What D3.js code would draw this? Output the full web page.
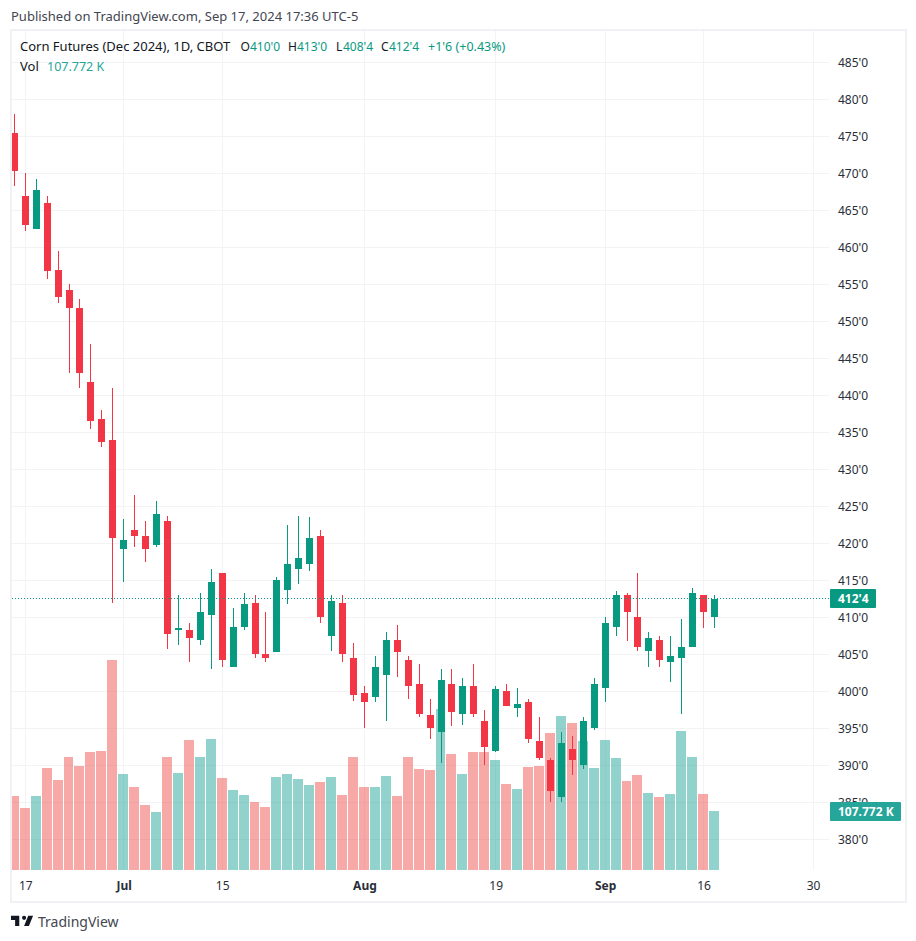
<!DOCTYPE html>
<html>
<head>
<meta charset="utf-8">
<script src="https://cdn.jsdelivr.net/npm/d3@7"></script>
<style>
body { margin: 0; background: #fff; }
text { font-family: "Noto Sans", sans-serif; }
</style>
</head>
<body>
<svg id="chart" width="916" height="941"></svg>
<script>
// corn dec 2024 daily, prices in cents, volume in thousands
var opens = [475.5, 467, 462.5, 466, 457, 454.25, 451.75, 441.75, 436.75, 434, 419.25, 421.75, 421, 419.75, 423, 408.25, 408.25, 407, 410.25, 416, 403.25, 408.75, 412, 405, 405.25, 413.75, 416.5, 417.25, 421, 407.5, 412, 404.5, 399.75, 399.25, 402.25, 407, 404.25, 401, 396.75, 394.5, 401, 397, 400.75, 396, 392, 400, 397.75, 398.5, 393.25, 390.75, 385.75, 392.25, 390, 395, 400.5, 408.75, 413, 410, 405.5, 407, 404, 404.5, 406, 413, 410];
var highs = [478, 470, 469.25, 467, 459.5, 455, 453, 447, 438, 441, 423.25, 426.5, 423, 425.75, 423.75, 413, 409.25, 413.25, 416.5, 416, 411.25, 413.25, 413, 410.75, 415.5, 422.5, 423.75, 423.5, 421.75, 413, 413, 406.5, 400.75, 404.75, 408, 409, 404.75, 403.75, 399, 403, 403, 401.75, 403.75, 397.5, 400.75, 401, 400.5, 399, 396.5, 391, 394.5, 394, 396.5, 401.75, 410, 413.5, 413.25, 416, 408, 407.5, 407.5, 409.75, 414, 413, 413];
var lows = [468.25, 462.25, 462.5, 455.75, 452.5, 443, 441, 435.5, 433, 412, 414.75, 419.5, 417.5, 419.5, 405.75, 406.25, 404, 406.25, 403, 403.25, 403.25, 408.25, 404.5, 404, 405.25, 411.75, 414.5, 416.25, 409.25, 405.5, 404, 398.75, 395, 398.5, 396, 402, 399, 396.5, 393.5, 390.25, 395.25, 395.5, 396.5, 390, 391.75, 398, 396.5, 393, 390.75, 385, 385, 388.75, 389.5, 394.75, 398.5, 407.5, 406.75, 405.5, 403.25, 403.25, 401.25, 397, 406, 408.5, 408.5];
var closes = [470.25, 463, 467.75, 456.75, 453.25, 451.75, 443, 436.5, 433.75, 420.75, 420.5, 421, 419.25, 424, 407.75, 408.5, 407.25, 410.75, 414.75, 404.25, 408.75, 411.75, 405, 404.5, 415, 417.25, 418, 420.75, 410, 412.25, 405, 399.5, 398.5, 403.25, 407, 405.25, 400.75, 397, 395, 401.5, 397.25, 400.75, 397, 392.5, 400.25, 398, 398.25, 393.5, 391, 386.5, 393, 390.75, 396, 401, 409.25, 413, 410.75, 406, 407.25, 404.25, 404.75, 406, 413.25, 410.75, 412.5];
var volumes = [135, 113, 135, 186, 164, 206, 190, 215.5, 217, 383.5, 175, 152, 119, 106, 206, 177, 237, 206, 239, 168, 146, 137, 124, 115, 170, 175, 166, 155, 161, 170, 137, 206, 152, 152, 172, 135, 206, 184.5, 183, 294, 212, 175, 215.5, 215.5, 201, 157, 148, 188, 190, 250, 281, 268.5, 235.6, 186, 237, 204.5, 162.5, 173.5, 140.6, 133, 139, 254, 206, 139, 107.772];

var priceTicks = d3.range(380, 486, 5);
var timeTicks = [1, 10, 19, 32, 44, 54, 63, 73];
var timeLabels = ["17", "Jul", "15", "Aug", "19", "Sep", "16", "30"];
var monthLabels = ["Jul", "Aug", "Sep"];
var lastPrice = 412.5;
var lastVolume = 107.772;

var upColor = "#089981",
    downColor = "#f23645",
    upVol = "rgba(38,166,154,0.5)",
    downVol = "rgba(239,83,80,0.5)",
    gridColor = "#f3f3f5",
    frameColor = "#f0f0f5",
    textColor = "#131722";

var plotLeft = 12, plotRight = 829, plotTop = 31, plotBottom = 870;

var svg = d3.select("#chart");

var x = d3.scaleLinear().domain([0, 73]).range([14.3, 813]);
var y = d3.scaleLinear().domain([380, 485]).range([839.3, 62.3]);
var yVol = d3.scaleLinear().domain([0, 400]).range([plotBottom, plotBottom - 219]);

function col(i) {
    return Math.floor(x(i));
}
function priceLabel(p) {
    var whole = Math.floor(p);
    return whole + "'" + (p - whole) * 8;
}

svg.append("clipPath").attr("id", "plot")
    .append("rect")
    .attr("x", plotLeft).attr("y", plotTop)
    .attr("width", plotRight - plotLeft).attr("height", plotBottom - plotTop);

// frame
svg.append("rect")
    .attr("x", 11).attr("y", 30)
    .attr("width", 895).attr("height", 872)
    .attr("fill", "#fff")
    .attr("stroke", frameColor)
    .attr("stroke-width", 2);

// grid
var grid = svg.append("g").attr("shape-rendering", "crispEdges");
grid.selectAll(".hline")
    .data(priceTicks)
    .enter().append("line")
    .attr("x1", plotLeft).attr("x2", plotRight)
    .attr("y1", function (d) { return Math.floor(y(d)) + 0.5; })
    .attr("y2", function (d) { return Math.floor(y(d)) + 0.5; })
    .attr("stroke", gridColor);
grid.selectAll(".vline")
    .data(timeTicks)
    .enter().append("line")
    .attr("y1", plotTop).attr("y2", plotBottom)
    .attr("x1", function (d) { return col(d) + 0.5; })
    .attr("x2", function (d) { return col(d) + 0.5; })
    .attr("stroke", gridColor);

var plot = svg.append("g")
    .attr("clip-path", "url(#plot)")
    .attr("shape-rendering", "crispEdges");

// volume sits under the candles, bars keep a 1px gap to the next one
plot.selectAll(".vol")
    .data(volumes)
    .enter().append("rect")
    .attr("class", "vol")
    .attr("x", function (d, i) { return col(i) - 5; })
    .attr("y", function (d) { return yVol(d); })
    .attr("width", function (d, i) { return col(i + 1) - col(i) - 1; })
    .attr("height", function (d) { return plotBottom - yVol(d); })
    .attr("fill", function (d, i) { return closes[i] >= opens[i] ? upVol : downVol; });

// wicks
plot.selectAll(".wick")
    .data(opens)
    .enter().append("rect")
    .attr("class", "wick")
    .attr("x", function (d, i) { return col(i); })
    .attr("y", function (d, i) { return y(highs[i]); })
    .attr("width", 1)
    .attr("height", function (d, i) { return y(lows[i]) - y(highs[i]); })
    .attr("fill", function (d, i) { return closes[i] >= opens[i] ? upColor : downColor; });

// bodies
plot.selectAll(".body")
    .data(opens)
    .enter().append("rect")
    .attr("class", "body")
    .attr("x", function (d, i) { return col(i) - 3; })
    .attr("y", function (d, i) { return y(Math.max(opens[i], closes[i])); })
    .attr("width", 7)
    .attr("height", function (d, i) { return Math.max(1, Math.abs(y(opens[i]) - y(closes[i]))); })
    .attr("fill", function (d, i) { return closes[i] >= opens[i] ? upColor : downColor; });

// last price line
svg.append("line")
    .attr("x1", plotLeft).attr("x2", 830)
    .attr("y1", Math.floor(y(lastPrice)) + 0.5)
    .attr("y2", Math.floor(y(lastPrice)) + 0.5)
    .attr("stroke", upColor)
    .attr("stroke-width", 1.2)
    .attr("stroke-dasharray", "1 2")
    .attr("shape-rendering", "crispEdges");

// axes
var yAxis = svg.append("g")
    .attr("transform", "translate(830,0)")
    .call(d3.axisRight(y).tickValues(priceTicks).tickFormat(priceLabel).tickSize(0).tickPadding(8));
var xAxis = svg.append("g")
    .attr("transform", "translate(0," + plotBottom + ")")
    .call(d3.axisBottom(x).tickValues(timeTicks).tickFormat(function (d, i) { return timeLabels[i]; }).tickSize(0).tickPadding(11));

yAxis.select(".domain").remove();
xAxis.select(".domain").remove();
yAxis.selectAll("text").attr("font-size", 12).attr("fill", "#2a2e39");
xAxis.selectAll("text")
    .attr("font-size", 12)
    .attr("fill", "#2a2e39")
    .attr("font-weight", function (d, i) { return monthLabels.indexOf(timeLabels[i]) >= 0 ? "bold" : "normal"; });

// badges on the price scale
function badge(by, bw, color, label) {
    svg.append("rect")
        .attr("x", 830).attr("y", by)
        .attr("width", bw).attr("height", 19)
        .attr("rx", 1)
        .attr("fill", color);
    svg.append("text")
        .attr("x", 838).attr("y", by + 14)
        .attr("font-size", 12)
        .attr("font-weight", "bold")
        .attr("fill", "#fff")
        .text(label);
}
badge(589, 46, upColor, priceLabel(lastPrice));
badge(802, 71, "#26a69a", lastVolume + " K");

// header
function label(tx, ty, str, color, size) {
    svg.append("text")
        .attr("x", tx).attr("y", ty)
        .attr("font-size", size || 12)
        .attr("fill", color)
        .text(str);
}
label(11, 21, "Published on TradingView.com, Sep 17, 2024 17:36 UTC-5", "#434651", 13);
label(20, 51, "Corn Futures (Dec 2024), 1D, CBOT", textColor, 13);
label(240.5, 51, "O", textColor);
label(250, 51, "410'0", upColor);
label(288, 51, "H", textColor);
label(297, 51, "413'0", upColor);
label(336, 51, "L", textColor);
label(343, 51, "408'4", upColor);
label(381, 51, "C", textColor);
label(389, 51, "412'4", upColor);
label(428, 51, "+1'6 (+0.43%)", upColor, 12.5);
label(20, 71, "Vol", textColor, 13);
label(47, 71, "107.772 K", "#26a69a", 12.5);

// logo
svg.append("path")
    .attr("transform", "translate(9.6,911.6) scale(0.69)")
    .attr("d", "M14 6H2v6h6v9h6V6zm14 15h-7l6-15h7l-6 15zm-7-9a3 3 0 1 0 0-6 3 3 0 0 0 0 6z")
    .attr("fill", textColor);
label(38, 927, "TradingView", "#434651", 14);
</script>
</body>
</html>
